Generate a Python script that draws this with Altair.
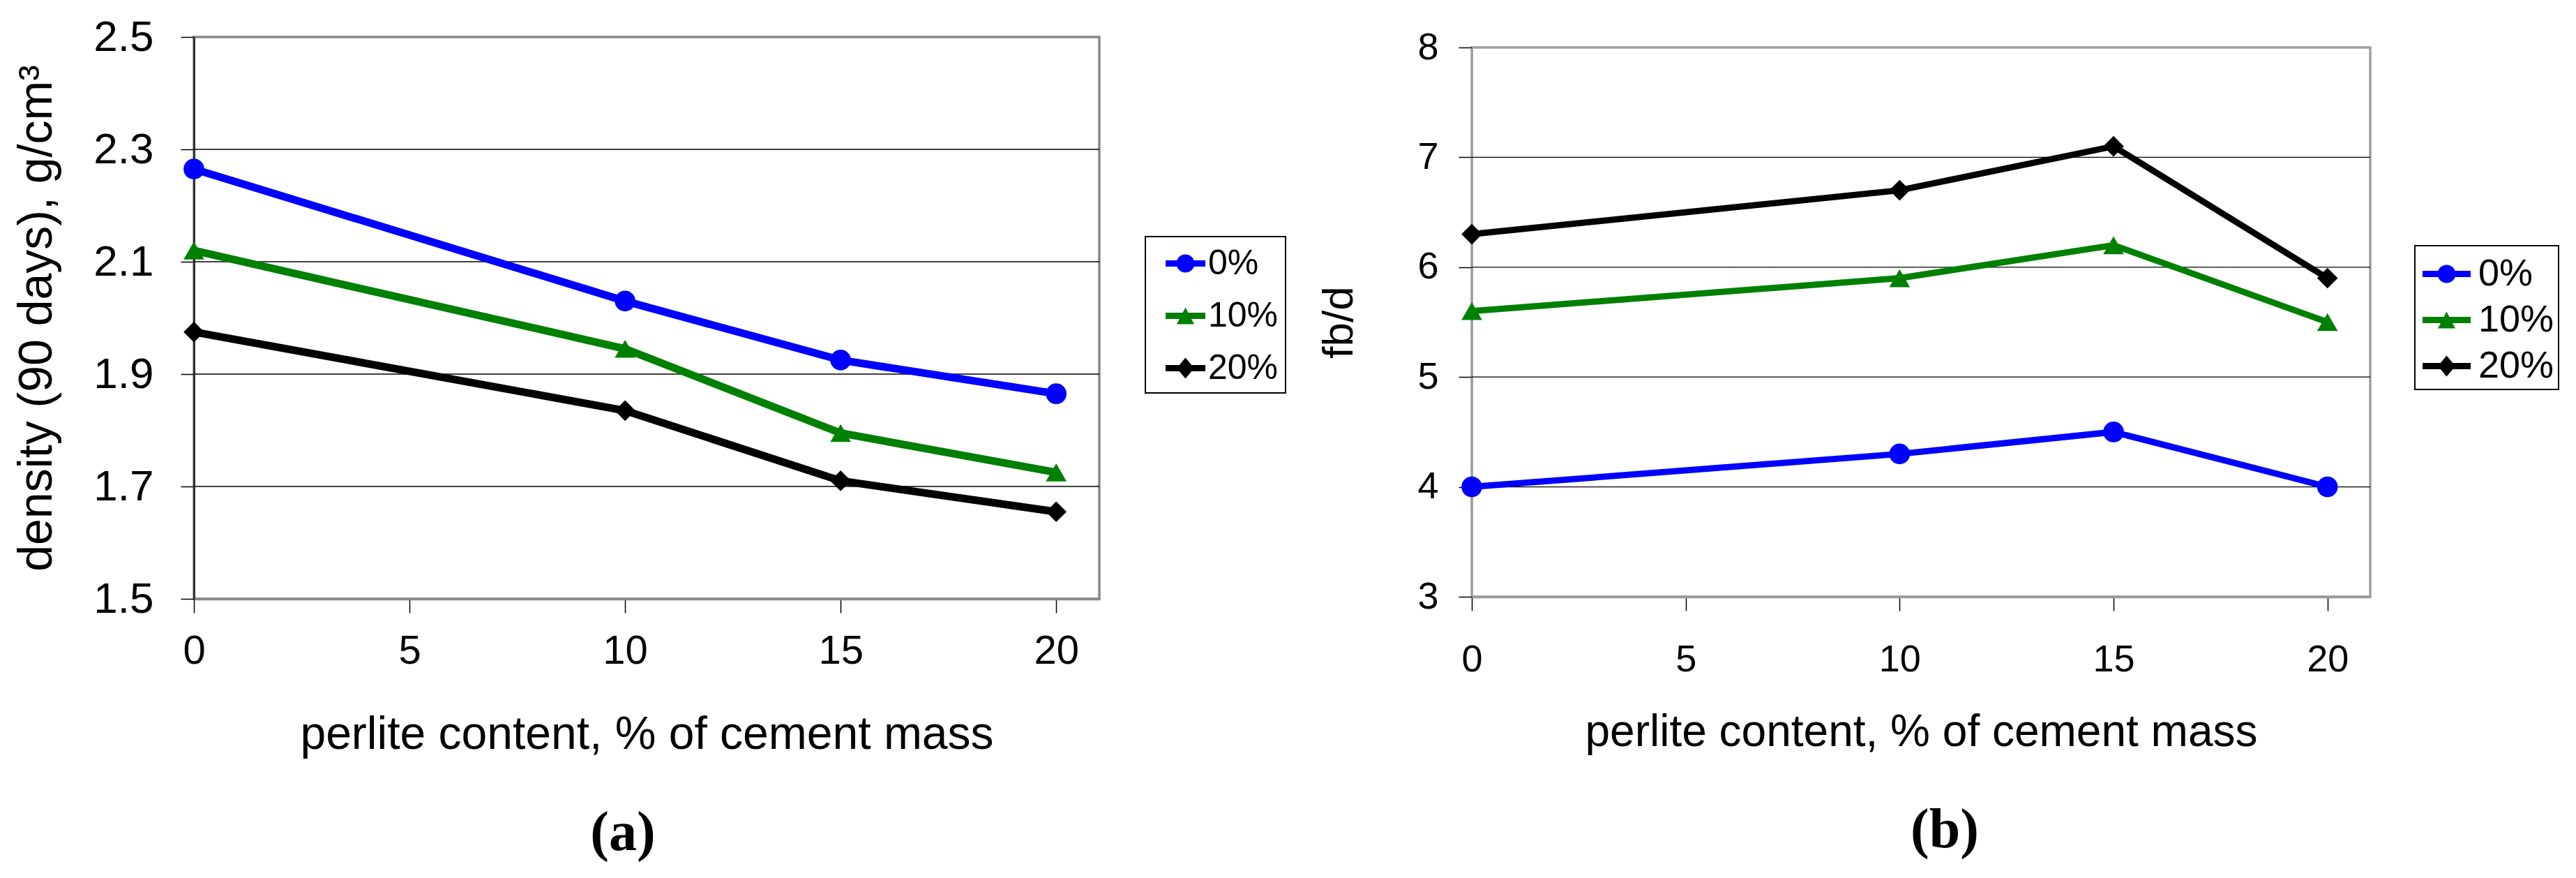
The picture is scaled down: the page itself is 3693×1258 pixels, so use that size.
import altair as alt
import pandas as pd

# ---------------- data ----------------
x_values = [0, 10, 15, 20]
series_names = ["0%", "10%", "20%"]

density_0 = [2.265, 2.03, 1.925, 1.865]
density_10 = [2.12, 1.945, 1.795, 1.725]
density_20 = [1.975, 1.835, 1.71, 1.655]

fbd_0 = [4.0, 4.3, 4.5, 4.0]
fbd_10 = [5.6, 5.9, 6.2, 5.5]
fbd_20 = [6.3, 6.7, 7.1, 5.9]

x_ticks = [0, 5, 10, 15, 20]
density_ticks = [1.5, 1.7, 1.9, 2.1, 2.3, 2.5]
density_grid = [1.7, 1.9, 2.1, 2.3]
fbd_ticks = [3, 4, 5, 6, 7, 8]
fbd_grid = [4, 5, 6, 7]

colors = ["#0000FF", "#008000", "#000000"]
shapes = ["circle", "triangle-up", "diamond"]

FONT = "Liberation Sans"
SERIF = "Liberation Serif"


def long_df(series_values):
    rows = []
    for name, vals in zip(series_names, series_values):
        for x, y in zip(x_values, vals):
            rows.append({"x": x, "y": y, "series": name})
    return pd.DataFrame(rows)


def legend_paths(w, r, tri_top, tri_bot, tri_hw, dia_hw, dia_hh, thick):
    u = w / 2.0
    h = thick / 2.0 / u
    bar = f"M-1,{-h:.3f}H1V{h:.3f}H-1Z"
    rr = r / u
    circ = (f"M{rr:.3f},0A{rr:.3f},{rr:.3f} 0 1,1 {-rr:.3f},0"
            f"A{rr:.3f},{rr:.3f} 0 1,1 {rr:.3f},0Z")
    tri = (f"M0,{-tri_top / u:.3f}L{tri_hw / u:.3f},{tri_bot / u:.3f}"
           f"L{-tri_hw / u:.3f},{tri_bot / u:.3f}Z")
    dia = (f"M0,{-dia_hh / u:.3f}L{dia_hw / u:.3f},0L0,{dia_hh / u:.3f}"
           f"L{-dia_hw / u:.3f},0Z")
    return [bar + circ, bar + tri, bar + dia]


def make_panel(df, grid_vals, ydom, yticks, yfmt, ytitle, caption, c):
    xscale = alt.Scale(domain=[0, 21], nice=False, zero=False)
    yscale = alt.Scale(domain=ydom, nice=False, zero=False)
    xaxis = alt.Axis(
        values=x_ticks, title="perlite content, % of cement mass", grid=False,
        labelFont=FONT, labelFontSize=c["xl_fs"], labelColor="black",
        labelPadding=c["xl_pad"], labelFlush=False, labelOverlap=False,
        tickSize=20, tickColor="black", tickWidth=1.5,
        domainColor=c["bottom_col"], domainWidth=3.5,
        titleFont=FONT, titleFontSize=c["xt_fs"], titleFontWeight="normal",
        titleColor="black", titlePadding=c["xt_pad"],
    )
    yaxis = alt.Axis(
        values=yticks, format=yfmt, title=ytitle, grid=False,
        labelFont=FONT, labelFontSize=c["yl_fs"], labelColor="black",
        labelPadding=c["yl_pad"], labelOverlap=False,
        tickSize=19, tickColor="black", tickWidth=1.5,
        domainColor=c["left_col"], domainWidth=c["left_w"],
        titleFont=FONT, titleFontSize=c["yt_fs"], titleFontWeight="normal",
        titleColor="black", titlePadding=c["yt_pad"],
    )
    x_enc = alt.X("x:Q", scale=xscale, axis=xaxis)
    y_enc = alt.Y("y:Q", scale=yscale, axis=yaxis)

    grid_df = pd.DataFrame({"v": grid_vals})
    grid = alt.Chart(grid_df).mark_rule(color="black", strokeWidth=1.3).encode(
        y=alt.Y("v:Q", scale=yscale, axis=yaxis)
    )

    color_enc = alt.Color("series:N", scale=alt.Scale(domain=series_names, range=colors), legend=None)
    lines = alt.Chart(df).mark_line(strokeWidth=c["line_w"]).encode(
        x=x_enc, y=y_enc, color=color_enc, detail="series:N",
        order=alt.Order("x:Q"),
    )
    points = alt.Chart(df).mark_point(filled=True, opacity=1, size=c["msize"]).encode(
        x=x_enc, y=y_enc, color=color_enc,
        shape=alt.Shape("series:N", scale=alt.Scale(domain=series_names, range=shapes), legend=None),
    )

    leg = alt.Legend(
        title=None, orient="none", legendX=c["lx"], legendY=c["ly"],
        padding=c["lpad"], strokeColor="black", fillColor="white",
        symbolSize=c["lsym"] ** 2, symbolStrokeWidth=0, symbolOpacity=1,
        symbolOffset=c["lsymoff"], labelFont=FONT, labelFontSize=c["ll_fs"],
        labelColor="black", labelOffset=c["lloff"], rowPadding=c["lrowpad"],
    )
    paths = legend_paths(c["lsym"], 13, 12, 12, 12.5, 12.5, 15, 9)
    legend_layer = alt.Chart(df).mark_point(filled=True, opacity=0).encode(
        x=x_enc, y=y_enc,
        color=alt.Color("series:N", scale=alt.Scale(domain=series_names, range=colors), legend=leg),
        shape=alt.Shape("series:N", scale=alt.Scale(domain=series_names, range=paths), legend=leg),
    )

    return alt.layer(grid, lines, points, legend_layer).resolve_scale(
        shape="independent", color="independent"
    ).properties(
        width=c["w"], height=c["h"],
        view=alt.ViewBackground(stroke=c["border"], strokeWidth=3.5, fill="white"),
        title=alt.Title(caption, orient="bottom", anchor="middle", font=SERIF,
                        fontSize=80, fontWeight="bold", color="black",
                        offset=c["cap_off"], dx=c["cap_dx"]),
    )


cfg_a = dict(w=1298, h=805, xl_fs=58, xl_pad=26, xt_fs=66, xt_pad=58,
             yl_fs=62, yl_pad=39, yt_fs=68, yt_pad=46,
             bottom_col="#888888", left_col="#333333", left_w=3, border="#888888",
             line_w=11, msize=880, lx=1364, ly=286, lpad=10, lsym=57, lsymoff=19,
             ll_fs=50, lloff=4, lrowpad=21, cap_off=70, cap_dx=-34)
cfg_b = dict(w=1288, h=787, xl_fs=54, xl_pad=43, xt_fs=64, xt_pad=45,
             yl_fs=54, yl_pad=29, yt_fs=62, yt_pad=80,
             bottom_col="#999999", left_col="#999999", left_w=2, border="#A0A0A0",
             line_w=9, msize=880, lx=1352, ly=284, lpad=6, lsym=69, lsymoff=5,
             ll_fs=54, lloff=11, lrowpad=4, cap_off=70, cap_dx=34)

panel_a = make_panel(long_df([density_0, density_10, density_20]), density_grid,
                     [1.5, 2.5], density_ticks, ".1f",
                     "density (90 days), g/cm³", "(a)", cfg_a)
panel_b = make_panel(long_df([fbd_0, fbd_10, fbd_20]), fbd_grid,
                     [3, 8], fbd_ticks, "d", "fb/d", "(b)", cfg_b)

spacer = alt.Chart(pd.DataFrame({"s": [0]})).mark_point(opacity=0).properties(
    width=1288, height=15,
    view=alt.ViewBackground(stroke="transparent", fill="transparent"),
)

right = alt.vconcat(spacer, panel_b, spacing=0, bounds="flush").resolve_scale(
    color="independent", shape="independent"
)

chart = alt.hconcat(panel_a, right, spacing=534, bounds="flush").resolve_scale(
    color="independent", shape="independent"
).properties(
    padding={"left": 10, "top": 12, "right": 0, "bottom": 0},
    background="white",
).configure_legend(strokeWidth=2)

chart.save("out.html", embed_options={"renderer": "svg", "actions": False})
